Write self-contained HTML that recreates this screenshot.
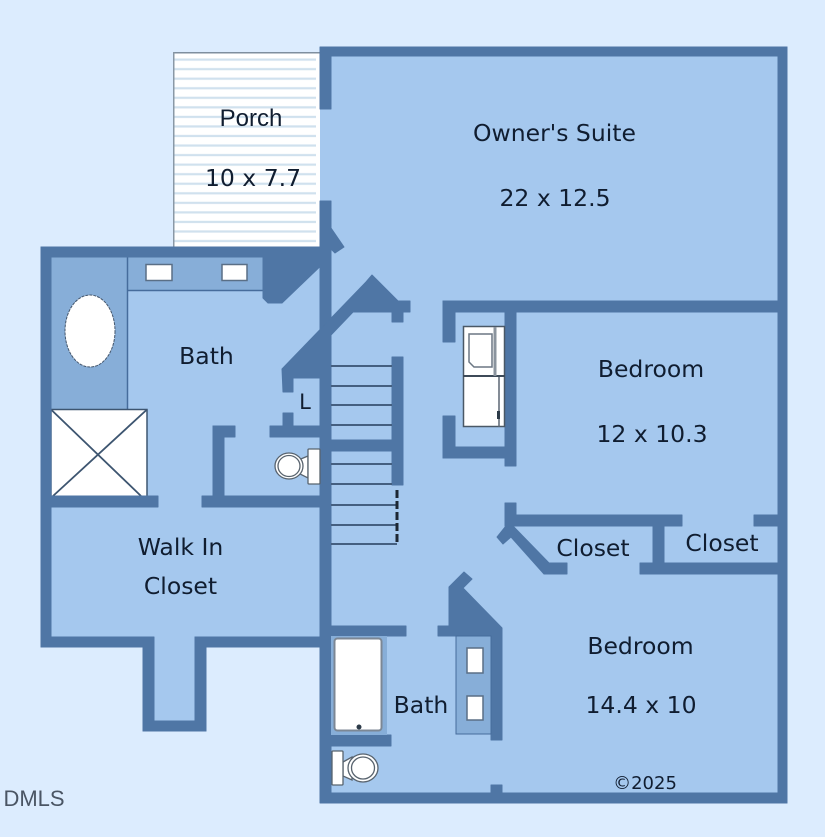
<!DOCTYPE html>
<html><head><meta charset="utf-8">
<style>
html,body{margin:0;padding:0;width:825px;height:837px;overflow:hidden;background:#dcecfe}
svg{display:block}
text{font-family:"DejaVu Sans","Liberation Sans",sans-serif;fill:#101d30;font-size:23.500px;text-anchor:middle}
</style></head><body>
<svg width="825" height="837" viewBox="0 0 825 837" xmlns="http://www.w3.org/2000/svg">
<defs>
<pattern id="st" x="0" y="52" width="10" height="9.55" patternUnits="userSpaceOnUse">
<rect width="10" height="9.55" fill="#fff"/><rect y="6.5" width="10" height="2.2" fill="#d0e1ee"/>
</pattern>
</defs>
<rect width="825" height="837" fill="#dcecfe"/>
<!-- floor -->
<path d="M320 50H782V798H325V642H200V725H148V642H46V252H320Z" fill="#a5c8ee"/>
<!-- porch -->
<rect x="173" y="52" width="147" height="195" fill="#fff"/>
<rect x="173" y="52" width="143" height="195" fill="url(#st)"/>
<rect x="173" y="52" width="147" height="1.500" fill="#7f8f9f"/>
<rect x="173" y="52" width="1.500" height="195" fill="#8a98a6"/>
<!-- vanity areas -->
<rect x="51" y="257" width="76" height="152" fill="#87aed8"/>
<rect x="127" y="257" width="137" height="33" fill="#87aed8"/>
<path d="M127.500 257V409M127 290.500H264" stroke="#466c9c" stroke-width="1.500" fill="none"/>
<rect x="146" y="264.500" width="26" height="16" fill="#fff" stroke="#5a6f86" stroke-width="1.500"/>
<rect x="222" y="264.500" width="25" height="16" fill="#fff" stroke="#5a6f86" stroke-width="1.500"/>
<ellipse cx="90" cy="331" rx="25" ry="36" fill="#fff" stroke="#44566c" stroke-width="1" stroke-dasharray="3 1"/>
<!-- shower -->
<rect x="51" y="409.500" width="96" height="87" fill="#fff" stroke="#3d5570" stroke-width="1.500"/>
<path d="M51 409.500L141 496M147 409.500L53 496" stroke="#3d5570" stroke-width="1.800" fill="none"/>
<!-- walls -->
<g fill="#4f76a5" stroke="#4f76a5" stroke-width="1" stroke-linejoin="round">
<rect x="321" y="47" width="466" height="9"/>
<rect x="778" y="47" width="9" height="756"/>
<rect x="321" y="793" width="466" height="10"/>
<rect x="320" y="47" width="11" height="62"/>
<rect x="320" y="201" width="11" height="602"/>
<rect x="41" y="247" width="289" height="10"/>
<rect x="41" y="247" width="10" height="400"/>
<rect x="41" y="637" width="112" height="10"/>
<rect x="195" y="637" width="135" height="10"/>
<rect x="143" y="637" width="11" height="94"/>
<rect x="195" y="637" width="11" height="94"/>
<rect x="143" y="721" width="63" height="10"/>
<rect x="41" y="496" width="117" height="11"/>
<rect x="202" y="496" width="128" height="11"/>
<rect x="213" y="426" width="11" height="75"/>
<rect x="213" y="426" width="22" height="11"/>
<rect x="270" y="426" width="60" height="11"/>
<rect x="283" y="413" width="10" height="18"/>
<path d="M263 257H330L282 303H268L263 298Z"/>
<path d="M331 228L344 247L335 253L322 240Z"/>
<path d="M282 369L366 282L372 275L398 301H410V312H403V322H392V312H353L331 335V378H293V392H283Z"/>
<rect x="392" y="357" width="11" height="128"/>
<rect x="331" y="440" width="61" height="11"/>
<rect x="443" y="301" width="339" height="11"/>
<rect x="443" y="301" width="12" height="41"/>
<rect x="443" y="416" width="12" height="42"/>
<rect x="443" y="447" width="70" height="11"/>
<rect x="505" y="312" width="11" height="154"/>
<rect x="505" y="503" width="11" height="23"/>
<rect x="505" y="515" width="177" height="11"/>
<rect x="653" y="515" width="11" height="55"/>
<rect x="640" y="563" width="142" height="11"/>
<rect x="754" y="515" width="28" height="11"/>
<path d="M567 563H549L513 526L505 527L497 537L503 544L511 537L544 574H567Z"/>
<rect x="331" y="626" width="75" height="10"/>
<path d="M449 587L464 572L472 579L463 588L502 628V740H491V636H438V626H449Z"/>
<rect x="331" y="735" width="60" height="11"/>
<rect x="491" y="785" width="11" height="14"/>
</g>
<!-- closet cabinet lower -->
<rect x="456" y="636" width="35" height="98" fill="#87aed8" stroke="#466c9c" stroke-width="1"/>
<rect x="467" y="648" width="16" height="25" fill="#fff" stroke="#5a6f86" stroke-width="1.500"/>
<rect x="467" y="696" width="16" height="24" fill="#fff" stroke="#5a6f86" stroke-width="1.500"/>
<!-- tub -->
<rect x="331" y="636" width="56" height="99" fill="#87aed8"/>
<rect x="334.500" y="638.500" width="47" height="92" rx="3" fill="#fff" stroke="#7c8794" stroke-width="2"/>
<circle cx="359" cy="727" r="2.500" fill="#2c3a48"/>
<!-- stairs -->
<g stroke="#445f80" stroke-width="2" fill="none">
<path d="M331 366H392M331 386H392M331 405H392M331 425H392M331 464H392M331 484H392M331 505H397M331 525H397M331 544H397"/>
</g>
<path d="M397 490V545" stroke="#1d2733" stroke-width="3" stroke-dasharray="8 3" fill="none"/>
<!-- washer dryer -->
<rect x="463.500" y="326.500" width="41" height="100" fill="#fff" stroke="#4a5866" stroke-width="1.500"/>
<path d="M463 376H505" stroke="#3d4a58" stroke-width="2"/>
<path d="M469 334H492V367H474L469 362Z" fill="#fff" stroke="#6b7784" stroke-width="1.500"/>
<path d="M495 327V376" stroke="#8b949e" stroke-width="3"/>
<path d="M499 377V427" stroke="#5a6572" stroke-width="1.500"/>
<rect x="497" y="411" width="3" height="8" fill="#2c3a48"/>
<!-- toilets -->
<g fill="#fff" stroke="#58636e" stroke-width="1.300">
<path d="M296 461L308 456V478L296 472Z"/>
<rect x="308" y="449" width="12" height="35" rx="1"/>
<ellipse cx="289" cy="466" rx="14" ry="13"/>
<ellipse cx="289" cy="466" rx="11" ry="10.500"/>
<path d="M343 762L352 757V780L343 776Z"/>
<rect x="332" y="751" width="11" height="34" rx="1"/>
<ellipse cx="363" cy="768" rx="15" ry="14"/>
<ellipse cx="363" cy="768" rx="11.500" ry="11"/>
</g>
<!-- labels -->
<text x="251" y="126" style="font-family:'Liberation Sans',sans-serif;font-size:24px">Porch</text>
<text x="253" y="186">10 x 7.7</text>
<text x="554.500" y="141">Owner's Suite</text>
<text x="555" y="206">22 x 12.5</text>
<text x="206.500" y="364">Bath</text>
<text x="305" y="409" style="font-size:21px">L</text>
<text x="651" y="377">Bedroom</text>
<text x="652" y="442">12 x 10.3</text>
<text x="180.500" y="555">Walk In</text>
<text x="180.500" y="594">Closet</text>
<text x="593" y="556">Closet</text>
<text x="722" y="551">Closet</text>
<text x="640.500" y="654">Bedroom</text>
<text x="641" y="713">14.4 x 10</text>
<text x="421" y="713">Bath</text>
<text x="645" y="789" style="font-size:18px">©2025</text>
<text x="34" y="806" style="font-family:'Liberation Sans',sans-serif;font-size:22px;fill:#4a5564">DMLS</text>
</svg>
</body></html>
